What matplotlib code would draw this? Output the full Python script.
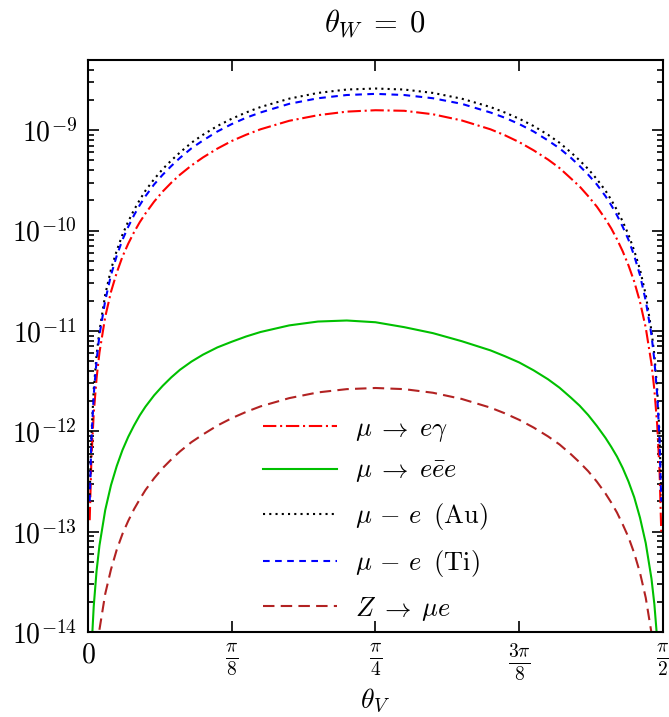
import numpy as np
import matplotlib
matplotlib.use("Agg")
import matplotlib.pyplot as plt
from matplotlib.ticker import LogLocator, NullFormatter, FixedLocator

plt.rcParams['mathtext.fontset'] = 'cm'
plt.rcParams['font.family'] = 'serif'
plt.rcParams['font.serif'] = ['cmr10', 'DejaVu Serif']
plt.rcParams['axes.formatter.use_mathtext'] = True

# theta_V as a fraction of pi/2
frac = [0.003, 0.006, 0.01, 0.015, 0.02, 0.03, 0.04, 0.05, 0.06, 0.07,
        0.08, 0.09, 0.1, 0.115, 0.13, 0.145, 0.16, 0.18, 0.2, 0.225,
        0.25, 0.275, 0.3, 0.35, 0.4, 0.45, 0.5, 0.55, 0.6, 0.65,
        0.7, 0.725, 0.75, 0.775, 0.8, 0.82, 0.84, 0.855, 0.87, 0.885,
        0.9, 0.91, 0.92, 0.93, 0.94, 0.95, 0.96, 0.97, 0.98, 0.985,
        0.99, 0.994, 0.997]

mu_e_gamma = [1.3e-13, 5.4e-13, 1.5e-12, 3.4e-12, 6.1e-12, 1.38e-11, 2.45e-11, 3.8e-11, 5.5e-11, 7.4e-11,
              9.6e-11, 1.21e-10, 1.48e-10, 1.94e-10, 2.45e-10, 3.0e-10, 3.6e-10, 4.45e-10, 5.35e-10, 6.55e-10,
              7.8e-10, 9.0e-10, 1.02e-9, 1.24e-9, 1.41e-9, 1.53e-9, 1.58e-9, 1.56e-9, 1.44e-9, 1.25e-9,
              1.02e-9, 8.9e-10, 7.6e-10, 6.3e-10, 5.1e-10, 4.2e-10, 3.3e-10, 2.75e-10, 2.2e-10, 1.73e-10,
              1.3e-10, 1.05e-10, 8.2e-11, 6.2e-11, 4.5e-11, 3.1e-11, 1.95e-11, 1.08e-11, 4.7e-12, 2.6e-12,
              1.15e-12, 4.1e-13, 1.0e-13]

mu_eee = [1.6e-15, 6.6e-15, 1.8e-14, 4.1e-14, 7.3e-14, 1.64e-13, 2.9e-13, 4.5e-13, 6.5e-13, 8.8e-13,
          1.14e-12, 1.44e-12, 1.76e-12, 2.28e-12, 2.84e-12, 3.45e-12, 4.1e-12, 4.95e-12, 5.8e-12, 6.85e-12,
          7.8e-12, 8.8e-12, 9.75e-12, 1.135e-11, 1.24e-11, 1.27e-11, 1.22e-11, 1.09e-11, 9.5e-12, 7.9e-12,
          6.4e-12, 5.6e-12, 4.85e-12, 4.05e-12, 3.3e-12, 2.72e-12, 2.16e-12, 1.8e-12, 1.45e-12, 1.13e-12,
          8.6e-13, 7.0e-13, 5.6e-13, 4.3e-13, 3.16e-13, 2.2e-13, 1.38e-13, 7.7e-14, 3.4e-14, 1.9e-14,
          8.4e-15, 3.0e-15, 7.5e-16]

mu_e_au = [2.3e-13, 9.2e-13, 2.6e-12, 5.8e-12, 1.0e-11, 2.3e-11, 4.1e-11, 6.3e-11, 9.1e-11, 1.23e-10,
           1.6e-10, 2.02e-10, 2.5e-10, 3.25e-10, 4.1e-10, 5.0e-10, 6.0e-10, 7.5e-10, 9.0e-10, 1.1e-9,
           1.3e-9, 1.5e-9, 1.7e-9, 2.06e-9, 2.35e-9, 2.54e-9, 2.6e-9, 2.54e-9, 2.35e-9, 2.06e-9,
           1.7e-9, 1.5e-9, 1.3e-9, 1.1e-9, 9.0e-10, 7.5e-10, 6.0e-10, 5.0e-10, 4.1e-10, 3.25e-10,
           2.5e-10, 2.02e-10, 1.6e-10, 1.23e-10, 9.1e-11, 6.3e-11, 4.1e-11, 2.3e-11, 1.0e-11, 5.8e-12,
           2.6e-12, 9.2e-13, 2.3e-13]

mu_e_ti = [2.0e-13, 8.2e-13, 2.3e-12, 5.1e-12, 9.1e-12, 2.0e-11, 3.6e-11, 5.6e-11, 8.1e-11, 1.09e-10,
           1.42e-10, 1.79e-10, 2.2e-10, 2.88e-10, 3.6e-10, 4.4e-10, 5.3e-10, 6.6e-10, 7.9e-10, 9.7e-10,
           1.15e-9, 1.33e-9, 1.5e-9, 1.83e-9, 2.08e-9, 2.24e-9, 2.3e-9, 2.24e-9, 2.08e-9, 1.83e-9,
           1.5e-9, 1.33e-9, 1.15e-9, 9.7e-10, 7.9e-10, 6.6e-10, 5.3e-10, 4.4e-10, 3.6e-10, 2.88e-10,
           2.2e-10, 1.79e-10, 1.42e-10, 1.09e-10, 8.1e-11, 5.6e-11, 3.6e-11, 2.0e-11, 9.1e-12, 5.1e-12,
           2.3e-12, 8.2e-13, 2.0e-13]

z_mu_e = [2.4e-16, 9.6e-16, 2.7e-15, 6.0e-15, 1.06e-14, 2.4e-14, 4.2e-14, 6.6e-14, 9.5e-14, 1.28e-13,
          1.67e-13, 2.1e-13, 2.6e-13, 3.4e-13, 4.3e-13, 5.25e-13, 6.3e-13, 7.8e-13, 9.3e-13, 1.14e-12,
          1.35e-12, 1.56e-12, 1.77e-12, 2.14e-12, 2.44e-12, 2.63e-12, 2.7e-12, 2.63e-12, 2.42e-12, 2.1e-12,
          1.72e-12, 1.51e-12, 1.3e-12, 1.09e-12, 8.9e-13, 7.4e-13, 5.9e-13, 4.9e-13, 4.0e-13, 3.15e-13,
          2.4e-13, 1.95e-13, 1.55e-13, 1.18e-13, 8.8e-14, 6.1e-14, 3.9e-14, 2.2e-14, 9.8e-15, 5.5e-15,
          2.4e-15, 8.8e-16, 2.2e-16]

xtick_labels = [r'$0$', r'$\frac{\pi}{8}$', r'$\frac{\pi}{4}$', r'$\frac{3\pi}{8}$', r'$\frac{\pi}{2}$']
ytick_values = [1e-14, 1e-13, 1e-12, 1e-11, 1e-10, 1e-9]

theta = np.array(frac) * np.pi / 2

fig = plt.figure(figsize=(6.69, 7.17), dpi=100)
ax = fig.add_axes([0.1315, 0.1185, 0.8595, 0.7978])

ax.plot(theta, mu_e_gamma, color='#ff0000', lw=1.5, ls=(0, (6.4, 1.8, 1, 1.8)),
        label=r'$\mu \;\to\; e\gamma$')
ax.plot(theta, mu_eee, color='#00c000', lw=1.5, ls='-', label=r'$\mu \;\to\; e\bar{e}e$')
ax.plot(theta, mu_e_au, color='black', lw=1.5, ls=(0, (1, 2.0)), label=r'$\mu \,-\, e\;\;(\mathrm{Au})$')
ax.plot(theta, mu_e_ti, color='#0000ff', lw=1.5, ls=(0, (3.2, 2.6)), label=r'$\mu \,-\, e\;\;(\mathrm{Ti})$')
ax.plot(theta, z_mu_e, color='#b22222', lw=1.5, ls=(0, (5.5, 3.0)), label=r'$Z \;\to\; \mu e$')

ax.set_yscale('log')
ax.set_ylim(1e-14, 5e-9)
ax.set_xlim(0, np.pi / 2)
ax.set_xticks([0, np.pi / 8, np.pi / 4, 3 * np.pi / 8, np.pi / 2])
ax.set_xticklabels(xtick_labels)
ax.yaxis.set_major_locator(FixedLocator(ytick_values))
ax.yaxis.set_minor_locator(LogLocator(base=10, subs=np.arange(2, 10), numticks=20))
ax.yaxis.set_minor_formatter(NullFormatter())

ax.tick_params(which='both', direction='in', top=True, right=True, labelsize=20, width=1.2)
ax.tick_params(which='major', length=8, pad=8)
ax.tick_params(axis='x', which='major', pad=7)
ax.tick_params(which='minor', length=4)
for s in ax.spines.values():
    s.set_linewidth(1.5)

ax.set_xlabel(r'$\theta_V$', fontsize=20, labelpad=3)
ax.set_title(r'$\theta_W \;=\; 0$', fontsize=22, pad=20)

ax.legend(loc='lower center', bbox_to_anchor=(0.5, 0.005), frameon=False, fontsize=19,
          handlelength=2.8, handletextpad=0.7, labelspacing=0.6, borderaxespad=0.0, borderpad=0.25)

fig.savefig('out.png', dpi=100)
